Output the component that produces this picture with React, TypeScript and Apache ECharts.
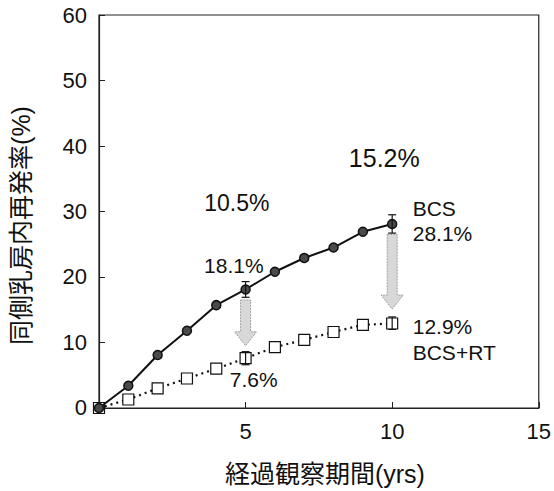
import React, { useEffect, useRef } from "react";
import * as echarts from "echarts";

const years = [0, 1, 2, 3, 4, 5, 6, 7, 8, 9, 10];
const bcs = [0, 3.4, 8.1, 11.8, 15.7, 18.1, 20.8, 22.9, 24.5, 26.9, 28.1];
const bcsRt = [0, 1.3, 3.0, 4.5, 6.0, 7.6, 9.3, 10.4, 11.6, 12.7, 12.9];

// error bars: [x, low, high]
const bcsErr = [
  [5, 16.9, 19.3],
  [10, 26.7, 29.5],
];
const bcsRtErr = [
  [5, 6.6, 8.6],
  [10, 12.0, 13.9],
];

// arrows: [x, yTop, yBottom]
const arrows = [
  [5, 16.5, 9.5],
  [10, 26.5, 15.1],
];

// annotations: [text, x, y, align, fontSize]
const annotations: [string, number, number, string, number][] = [
  ["10.5%", 4.7, 31.3, "center", 23],
  ["15.2%", 9.73, 38.1, "center", 25],
  ["18.1%", 4.6, 21.8, "center", 21],
  ["7.6%", 5.28, 4.3, "center", 21],
  ["BCS", 10.7, 30.4, "left", 21],
  ["28.1%", 10.7, 26.6, "left", 21],
  ["12.9%", 10.7, 12.5, "left", 21],
  ["BCS+RT", 10.7, 8.4, "left", 21],
];

const FONT = "'Liberation Sans', Arial, 'Noto Sans CJK JP', sans-serif";
const CJK = "'Liberation Sans', 'Noto Sans CJK JP', sans-serif";

export default function App() {
  const ref = useRef<HTMLDivElement>(null);
  useEffect(() => {
    const chart = echarts.init(ref.current!, null, { renderer: "svg" });
    chart.setOption({
      animation: false,
      backgroundColor: "#fff",
      grid: {
        left: 97,
        right: 13,
        top: 15,
        bottom: 82,
        show: true,
        borderColor: "#222",
        borderWidth: 1.2,
      },
      xAxis: {
        type: "value",
        min: 0,
        max: 15,
        interval: 5,
        name: "経過観察期間(yrs)",
        nameLocation: "middle",
        nameGap: 53,
        nameTextStyle: { fontFamily: CJK, fontSize: 25, color: "#111", padding: [0, 0, 0, 12] },
        axisLine: { lineStyle: { color: "#222", width: 1.2 } },
        axisTick: { inside: true, length: 6, lineStyle: { color: "#222" } },
        axisLabel: {
          fontFamily: FONT,
          fontSize: 22,
          color: "#111",
          margin: 12,
          formatter: (v: number) => (v === 0 ? "" : String(v)),
        },
        splitLine: { show: false },
      },
      yAxis: {
        type: "value",
        min: 0,
        max: 60,
        interval: 10,
        name: "同側乳房内再発率(%)",
        nameLocation: "middle",
        nameRotate: 90,
        nameGap: 66,
        nameTextStyle: { fontFamily: CJK, fontSize: 25, color: "#111", padding: [0, 28, 0, 0] },
        axisLine: { show: true, lineStyle: { color: "#222", width: 1.2 } },
        axisTick: { show: true, inside: true, length: 6, lineStyle: { color: "#222" } },
        axisLabel: { fontFamily: FONT, fontSize: 22, color: "#111", margin: 12 },
        splitLine: { show: false },
      },
      series: [
        {
          type: "custom",
          name: "arrows",
          data: arrows,
          z: 1,
          renderItem: (params: any, api: any) => {
            const top = api.coord([api.value(0), api.value(1)]);
            const bot = api.coord([api.value(0), api.value(2)]);
            const cx = top[0];
            const shaftW = 5;
            const headW = 11;
            const headL = 14;
            const pts = [
              [cx - shaftW, top[1]],
              [cx + shaftW, top[1]],
              [cx + shaftW, bot[1] - headL],
              [cx + headW, bot[1] - headL],
              [cx, bot[1]],
              [cx - headW, bot[1] - headL],
              [cx - shaftW, bot[1] - headL],
            ];
            return {
              type: "polygon",
              shape: { points: pts },
              style: { fill: "#d8d8d8", stroke: "#a0a0a0", lineWidth: 1, lineDash: [2, 1] },
            };
          },
        },
        {
          type: "line",
          name: "BCS+RT",
          data: years.map((x, i) => [x, bcsRt[i]]),
          symbol: "rect",
          symbolSize: 11,
          lineStyle: { color: "#111", width: 2.2, type: [2, 4] },
          itemStyle: { color: "#fff", borderColor: "#111", borderWidth: 1.2 },
          z: 3,
        },
        {
          type: "line",
          name: "BCS",
          data: years.map((x, i) => [x, bcs[i]]),
          symbol: "circle",
          symbolSize: 9,
          lineStyle: { color: "#111", width: 2 },
          itemStyle: { color: "#4a4a4a", borderColor: "#111", borderWidth: 1.5 },
          z: 4,
        },
        {
          type: "custom",
          name: "err",
          data: [...bcsErr, ...bcsRtErr],
          z: 5,
          renderItem: (params: any, api: any) => {
            const lo = api.coord([api.value(0), api.value(1)]);
            const hi = api.coord([api.value(0), api.value(2)]);
            const w = 4;
            const st = { stroke: "#111", lineWidth: 1.2 };
            return {
              type: "group",
              children: [
                { type: "line", shape: { x1: lo[0], y1: lo[1], x2: hi[0], y2: hi[1] }, style: st },
                { type: "line", shape: { x1: lo[0] - w, y1: lo[1], x2: lo[0] + w, y2: lo[1] }, style: st },
                { type: "line", shape: { x1: hi[0] - w, y1: hi[1], x2: hi[0] + w, y2: hi[1] }, style: st },
              ],
            };
          },
        },
        {
          type: "custom",
          name: "labels",
          data: annotations.map((a) => [a[1], a[2]]),
          z: 6,
          renderItem: (params: any, api: any) => {
            const a = annotations[params.dataIndex];
            const p = api.coord([api.value(0), api.value(1)]);
            return {
              type: "text",
              x: p[0],
              y: p[1],
              style: {
                text: a[0],
                fontFamily: FONT,
                fontSize: a[4],
                fill: "#111",
                textAlign: a[3],
                textVerticalAlign: "middle",
              },
            };
          },
        },
      ],
    });
    return () => chart.dispose();
  }, []);
  return <div ref={ref} style={{ width: 554, height: 491, position: "absolute", left: 0, top: 0 }} />;
}
